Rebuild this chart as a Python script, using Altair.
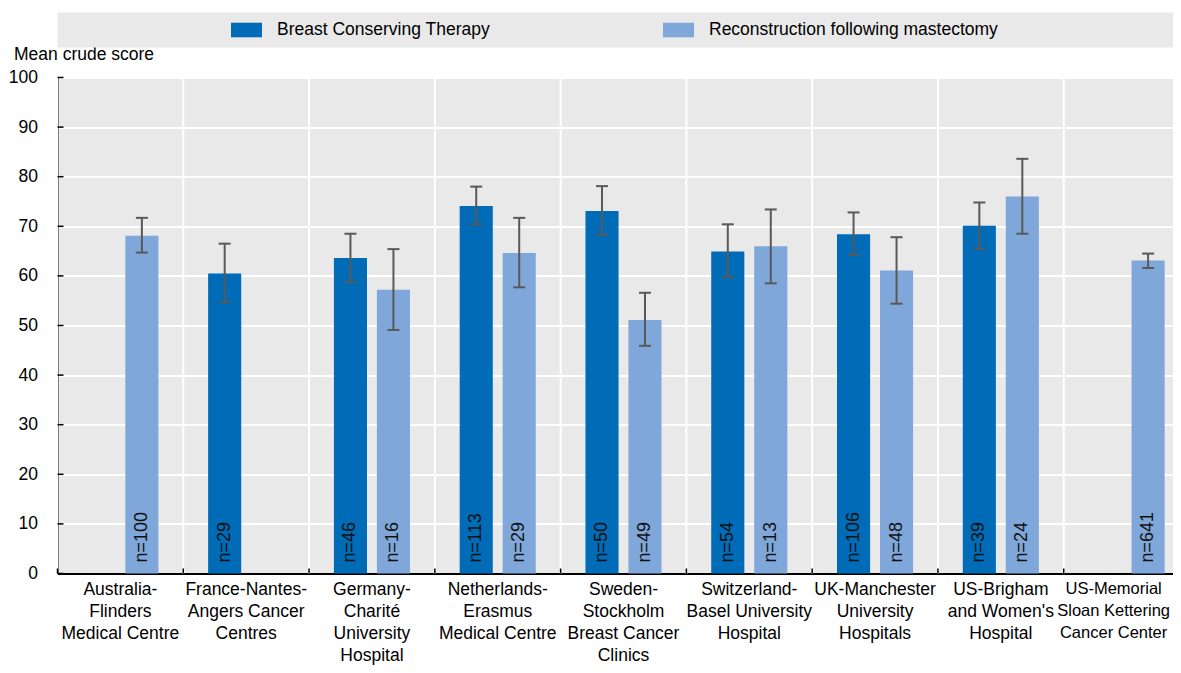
import altair as alt
import pandas as pd

categories = [
    "Australia-\nFlinders\nMedical Centre",
    "France-Nantes-\nAngers Cancer\nCentres",
    "Germany-\nCharité\nUniversity\nHospital",
    "Netherlands-\nErasmus\nMedical Centre",
    "Sweden-\nStockholm\nBreast Cancer\nClinics",
    "Switzerland-\nBasel University\nHospital",
    "UK-Manchester\nUniversity\nHospitals",
    "US-Brigham\nand Women's\nHospital",
    "US-Memorial\nSloan Kettering\nCancer Center",
]
series = ["Breast Conserving Therapy", "Reconstruction following mastectomy"]

bct_mean = [None, 60.5, 63.6, 74.1, 73.1, 64.9, 68.4, 70.1, None]
bct_lo = [None, 54.7, 58.8, 70.4, 68.3, 59.8, 64.2, 65.4, None]
bct_hi = [None, 66.5, 68.5, 78.0, 78.1, 70.4, 72.8, 74.8, None]
bct_n = [None, 29, 46, 113, 50, 54, 106, 39, None]

rec_mean = [68.1, None, 57.2, 64.6, 51.1, 66.0, 61.1, 76.0, 63.1]
rec_lo = [64.7, None, 49.1, 57.7, 45.9, 58.5, 54.4, 68.5, 61.6]
rec_hi = [71.7, None, 65.4, 71.7, 56.6, 73.4, 67.8, 83.6, 64.5]
rec_n = [100, None, 16, 29, 49, 13, 48, 24, 641]

y_ticks = [0, 10, 20, 30, 40, 50, 60, 70, 80, 90, 100]

colors = ["#006bb6", "#7fa7d9"]

rows = []
for i, c in enumerate(categories):
    for s, m, lo, hi, n in [
        (series[0], bct_mean[i], bct_lo[i], bct_hi[i], bct_n[i]),
        (series[1], rec_mean[i], rec_lo[i], rec_hi[i], rec_n[i]),
    ]:
        if m is None:
            continue
        rows.append(dict(cat=c, series=s, mean=m, lo=lo, hi=hi, n=f"n={n}"))
df = pd.DataFrame(rows)
cat_df = pd.DataFrame({"cat": categories})
ytick_df = pd.DataFrame({"v": y_ticks})

PAD_L = 49.5
PAD_T = 69.5
W = 1165 - PAD_L          # visible plot width (clipped at the page edge)
XR = 1132                 # full band range (9 categories)
H = 496
PAD_B = 657 - PAD_T - H
FONT = "Liberation Sans, Arial, sans-serif"
FS = 17.5
LAST = "indexof(datum.value, 'US-Memorial') == 0"

xscale = alt.Scale(domain=categories, paddingInner=0, paddingOuter=0, range=[0, XR])
oscale = alt.Scale(domain=series, paddingInner=0.23, paddingOuter=0.578)
yscale = alt.Scale(domain=[0, 100], nice=False)

xaxis = alt.Axis(
    labelExpr="split(datum.label, '\\n')",
    labelAngle=0,
    labelFontSize={"condition": {"test": LAST, "value": 16.5}, "value": FS},
    labelLineHeight=22,
    labelPadding=7,
    labelOffset={"condition": {"test": LAST, "value": -13}, "value": 0},
    labelColor="black",
    labelFont=FONT,
    labelOverlap=False,
    labelBound=False,
    labelFlush=False,
    labelLimit=300,
    ticks=False,
    tickSize=0,
    grid=False,
    domainColor="black",
    domainWidth=2,
    title=None,
)

base = alt.Chart(df)

box = alt.Chart(pd.DataFrame({"a": [0]})).mark_rect(color="#e9e9e9").encode(
    x=alt.value(0), x2=alt.value(XR + 60), y=alt.value(-65), y2=alt.value(-30)
)

vgrid = alt.Chart(cat_df).mark_rule(color="white", strokeWidth=2).encode(
    x=alt.X("cat:N", bandPosition=0, scale=xscale, axis=xaxis, sort=categories),
    y=alt.value(0),
    y2=alt.value(H),
)

bars = base.mark_bar().encode(
    x=alt.X("cat:N", scale=xscale, sort=categories, axis=xaxis),
    xOffset=alt.XOffset("series:N", scale=oscale, sort=series),
    y=alt.Y(
        "mean:Q",
        scale=yscale,
        axis=alt.Axis(
            values=y_ticks,
            title="Mean crude score",
            titleAngle=0,
            titleAlign="left",
            titleBaseline="alphabetic",
            titleX=-44,
            titleY=-18,
            titleFontSize=FS,
            titleFontWeight="normal",
            titleFont=FONT,
            titleColor="black",
            labelFontSize=FS,
            labelFont=FONT,
            labelColor="black",
            labelPadding=20,
            ticks=False,
            tickSize=0,
            grid=True,
            gridColor="white",
            gridWidth=2,
            domainColor="black",
            domainWidth=2,
        ),
    ),
    color=alt.Color(
        "series:N",
        scale=alt.Scale(domain=series, range=colors),
        title=None,
        legend=alt.Legend(
            orient="none",
            direction="horizontal",
            legendX=173.5,
            legendY=-63,
            symbolType="M-1,-0.47L1,-0.47L1,0.47L-1,0.47Z",
            symbolSize=961,
            symbolStrokeWidth=0,
            labelFontSize=FS,
            labelFont=FONT,
            labelColor="black",
            labelOffset=15,
            labelLimit=500,
            columnPadding=172,
        ),
    ),
)

err = base.mark_rule(color="#595959", strokeWidth=2).encode(
    x=alt.X("cat:N", scale=xscale, sort=categories),
    xOffset=alt.XOffset("series:N", scale=oscale, sort=series),
    y=alt.Y("lo:Q", scale=yscale),
    y2="hi:Q",
)

caps = base.transform_fold(["lo", "hi"], as_=["k", "val"]).mark_tick(
    color="#595959", size=12, thickness=2, opacity=1
).encode(
    x=alt.X("cat:N", scale=xscale, sort=categories),
    xOffset=alt.XOffset("series:N", scale=oscale, sort=series),
    y=alt.Y("val:Q", scale=yscale),
)

labels = base.mark_text(
    angle=270, align="left", baseline="middle", fontSize=18,
    font=FONT, color="#111111"
).encode(
    x=alt.X("cat:N", scale=xscale, sort=categories),
    xOffset=alt.XOffset("series:N", scale=oscale, sort=series),
    y=alt.value(H - 11),
    text="n:N",
)

xticks = alt.Chart(cat_df).mark_rule(color="black", strokeWidth=1.5).encode(
    x=alt.X("cat:N", bandPosition=0, scale=xscale, sort=categories),
    y=alt.value(H - 5),
    y2=alt.value(H),
)

yticks = alt.Chart(ytick_df).mark_rule(color="black", strokeWidth=1.5).encode(
    y=alt.Y("v:Q", scale=yscale),
    x=alt.value(0),
    x2=alt.value(6),
)

chart = (
    alt.layer(box, vgrid, bars, err, caps, labels, xticks, yticks)
    .properties(
        width=W,
        height=H,
        autosize=alt.AutoSizeParams(type="none"),
        padding={"left": PAD_L, "top": PAD_T, "right": 0, "bottom": PAD_B},
    )
    .configure(font=FONT)
    .configure_view(fill="#e9e9e9", strokeWidth=0)
)

chart.save("out.html", embed_options={"renderer": "svg", "actions": False})
